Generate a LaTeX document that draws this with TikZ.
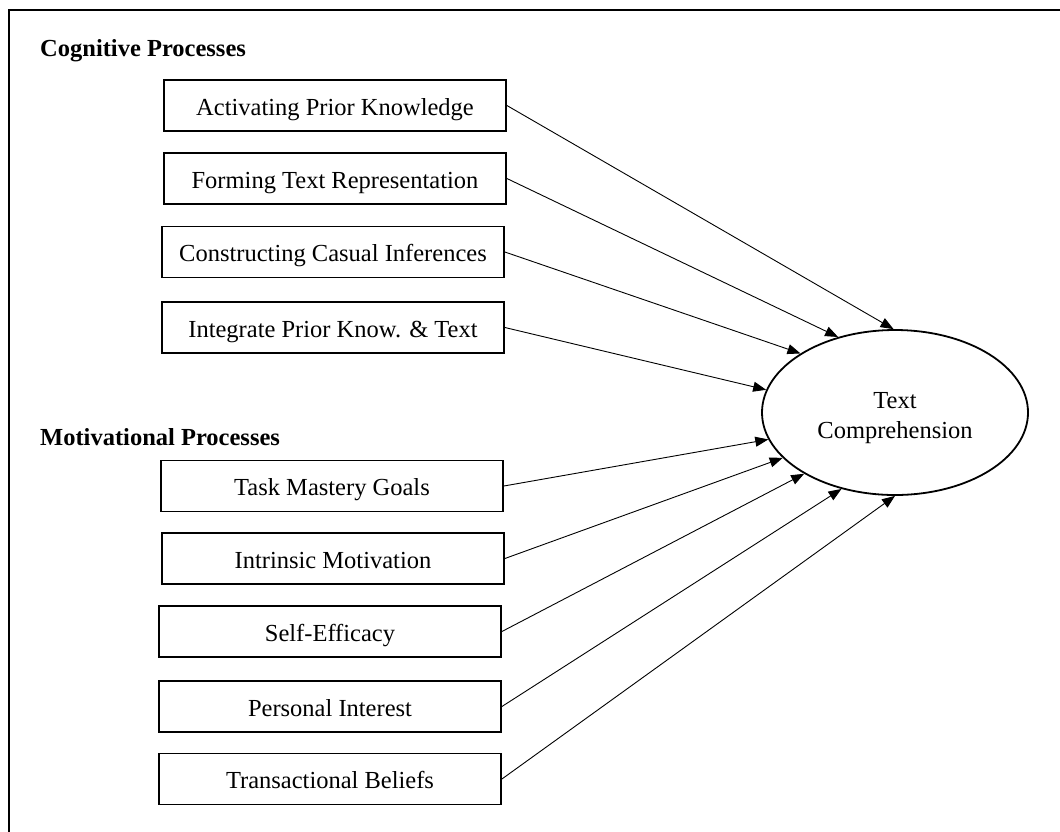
\documentclass[tikz,border=0pt]{standalone}
\usepackage{fontspec}
\setmainfont{Liberation Serif}
\usetikzlibrary{arrows.meta,shapes.geometric}
\begin{document}
\begin{tikzpicture}[x=1pt,y=-1pt,
  factor/.style={draw, line width=1.8pt, minimum width=342pt, minimum height=51pt, inner sep=0pt, text height=24pt, text depth=5pt, font=\fontsize{24.5}{29}\selectfont},
  header/.style={anchor=west, inner sep=0pt, font=\fontsize{24.5}{29}\selectfont\bfseries},
  outcome/.style={draw, ellipse, line width=1.8pt, minimum width=266pt, minimum height=165pt, inner sep=0pt, font=\fontsize{24.5}{30}\selectfont},
  link/.style={line width=0.9pt, -{Triangle[length=13pt,width=10pt]}},
  frame/.style={line width=2pt}]
\useasboundingbox (0,0) rectangle (1060,831);
\coordinate (ftl) at (9,10);
\coordinate (ftr) at (1062,10);
\coordinate (fbl) at (9,833);
\draw[frame] (ftr) -- (ftl) -- (fbl);

\node[header] (cog) at (40,51) {Cognitive Processes};
\node[header] (mot) at (40,437) {Motivational Processes};

\node[factor] (b1) at (335,105.5) {Activating Prior Knowledge};
\node[factor] (b2) at (335,178.5) {Forming Text Representation};
\node[factor] (b3) at (333,252) {Constructing Casual Inferences};
\node[factor] (b4) at (333,327.5) {Integrate Prior Know. \& Text};
\node[factor] (b5) at (332,486) {Task Mastery Goals};
\node[factor] (b6) at (333,558.5) {Intrinsic Motivation};
\node[factor] (b7) at (330,631.5) {Self-Efficacy};
\node[factor] (b8) at (330,706.5) {Personal Interest};
\node[factor] (b9) at (330,779) {Transactional Beliefs};

\node[outcome] (tc) at (895,412.5) {\smash{\raisebox{-11pt}{\begin{tabular}{@{}c@{}}Text\\Comprehension\end{tabular}}}};

\draw[link] (b1.east) -- (tc.91);
\draw[link] (b2.east) -- (tc.127);
\draw[link] (b3.east) -- (tc.148);
\draw[link] (b4.east) -- (tc.170);
\draw[link] (b5.east) -- (tc.192);
\draw[link] (b6.east) -- (tc.202);
\draw[link] (b7.east) -- (tc.214);
\draw[link] (b8.east) -- (tc.235);
\draw[link] (b9.east) -- (tc.270);
\end{tikzpicture}
\end{document}
